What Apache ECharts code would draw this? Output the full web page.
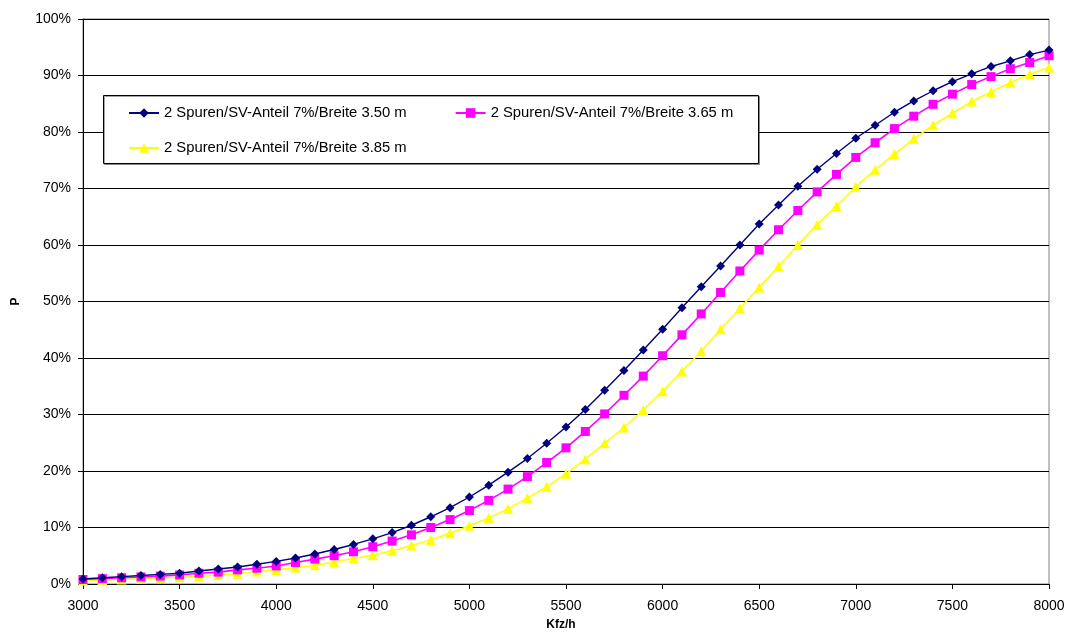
<!DOCTYPE html>
<html>
<head>
<meta charset="utf-8">
<script src="https://cdn.jsdelivr.net/npm/echarts@6/dist/echarts.min.js"></script>
<style>
html,body{margin:0;padding:0;background:#fff;}
#chart{width:1077px;height:640px;}
</style>
</head>
<body>
<div id="chart"></div>
<script>
// Traffic volume (Kfz/h)
const kfz = [3000,3100,3200,3300,3400,3500,3600,3700,3800,3900,
  4000,4100,4200,4300,4400,4500,4600,4700,4800,4900,
  5000,5100,5200,5300,5400,5500,5600,5700,5800,5900,
  6000,6100,6200,6300,6400,6500,6600,6700,6800,6900,
  7000,7100,7200,7300,7400,7500,7600,7700,7800,7900,8000];

// P in percent
const breite350 = [0.9,1.1,1.3,1.5,1.7,1.9,2.3,2.65,3.0,3.5,
  4.0,4.6,5.3,6.1,7.0,8.0,9.1,10.4,11.9,13.5,
  15.4,17.5,19.8,22.2,24.9,27.8,30.9,34.3,37.8,41.4,
  45.1,48.9,52.6,56.3,60.0,63.7,67.1,70.4,73.4,76.2,
  78.9,81.2,83.5,85.5,87.3,88.9,90.3,91.6,92.6,93.7,94.5];

const breite365 = [0.8,0.95,1.1,1.25,1.4,1.6,1.9,2.1,2.5,2.8,
  3.2,3.8,4.4,5.0,5.7,6.6,7.6,8.7,10.0,11.4,
  13.0,14.8,16.8,19.0,21.5,24.1,27.0,30.1,33.4,36.8,
  40.4,44.1,47.8,51.6,55.4,59.1,62.7,66.1,69.4,72.5,
  75.5,78.1,80.6,82.8,84.9,86.7,88.4,89.8,91.2,92.3,93.5];

const breite385 = [0.6,0.7,0.8,0.95,1.05,1.2,1.35,1.6,1.8,2.2,
  2.5,2.9,3.3,3.9,4.5,5.1,5.9,6.8,7.8,9.0,
  10.3,11.7,13.3,15.2,17.2,19.5,22.1,24.9,27.7,30.8,
  34.1,37.6,41.2,45.1,48.8,52.5,56.2,60.0,63.6,66.9,
  70.3,73.3,76.1,78.8,81.2,83.3,85.4,87.1,88.7,90.2,91.4];

const seriesNames = [
  '2 Spuren/SV-Anteil 7%/Breite 3.50 m',
  '2 Spuren/SV-Anteil 7%/Breite 3.65 m',
  '2 Spuren/SV-Anteil 7%/Breite 3.85 m'
];

const xTicks = [3000,3500,4000,4500,5000,5500,6000,6500,7000,7500,8000];
const yTicks = ['0%','10%','20%','30%','40%','50%','60%','70%','80%','90%','100%'];

const FONT = '"Liberation Sans", Arial, sans-serif';

function pairs(vals){ return kfz.map((x,i)=>[x, vals[i]]); }

const chart = echarts.init(document.getElementById('chart'), null, {renderer:'canvas'});

const legendCommon = {
  orient: 'horizontal',
  padding: 0,
  itemGap: 48,
  itemWidth: 30,
  itemHeight: 12,
  z: 10,
  textStyle: {fontFamily: FONT, fontSize: 14.8, color: '#000', lineHeight: 16}
};

chart.setOption({
  animation: false,
  backgroundColor: '#fff',
  grid: {left: 83, right: 28, top: 19, bottom: 56, show: true, borderColor: '#808080', borderWidth: 1},
  legend: [
    Object.assign({}, legendCommon, {left: 128, top: 105, data: [seriesNames[0], seriesNames[1]]}),
    Object.assign({}, legendCommon, {left: 128, top: 140, data: [seriesNames[2]]})
  ],
  graphic: [{
    type: 'rect', z: 3,
    shape: {x: 103.5, y: 95.5, width: 655, height: 68},
    style: {fill: '#fff', stroke: '#000', lineWidth: 1, shadowColor: 'rgba(0,0,0,0.35)', shadowOffsetX: 1, shadowOffsetY: 1, shadowBlur: 0}
  }],
  xAxis: {
    type: 'value', min: 3000, max: 8000, interval: 500,
    name: 'Kfz/h', nameLocation: 'middle', nameGap: 35,
    nameTextStyle: {fontFamily: FONT, fontSize: 12, fontWeight: 'bold', color: '#000', padding: [0, 10, 0, 0]},
    axisLine: {show: true, onZero: false, lineStyle: {color: '#000', width: 1}},
    axisTick: {show: true, inside: false, length: 5, lineStyle: {color: '#000'}},
    axisLabel: {margin: 15, fontFamily: FONT, fontSize: 14, color: '#000',
      formatter: v => xTicks.includes(v) ? String(v) : ''},
    splitLine: {show: false}
  },
  yAxis: {
    type: 'value', min: 0, max: 100, interval: 10,
    name: 'P', nameLocation: 'middle', nameGap: 61, nameRotate: 90,
    nameTextStyle: {fontFamily: FONT, fontSize: 12, fontWeight: 'bold', color: '#000'},
    axisLine: {show: true, lineStyle: {color: '#000', width: 1}},
    axisTick: {show: true, inside: false, length: 5, lineStyle: {color: '#000'}},
    axisLabel: {margin: 12, fontFamily: FONT, fontSize: 14, color: '#000',
      formatter: v => yTicks[Math.round(v/10)]},
    splitLine: {show: true, lineStyle: {color: '#000', width: 1}}
  },
  series: [
    {name: seriesNames[0], type: 'line', data: pairs(breite350), symbol: 'diamond', symbolSize: 9,
     color: '#000080', lineStyle: {width: 1.4, color: '#000080'}, itemStyle: {color: '#000080'}, z: 4},
    {name: seriesNames[1], type: 'line', data: pairs(breite365), symbol: 'rect', symbolSize: 9,
     color: '#FF00FF', lineStyle: {width: 1.6, color: '#FF00FF'}, itemStyle: {color: '#FF00FF'}, z: 3},
    {name: seriesNames[2], type: 'line', data: pairs(breite385), symbol: 'triangle', symbolSize: 10,
     color: '#FFFF00', lineStyle: {width: 1.6, color: '#FFFF00'}, itemStyle: {color: '#FFFF00'}, z: 2}
  ]
});
</script>
</body>
</html>
